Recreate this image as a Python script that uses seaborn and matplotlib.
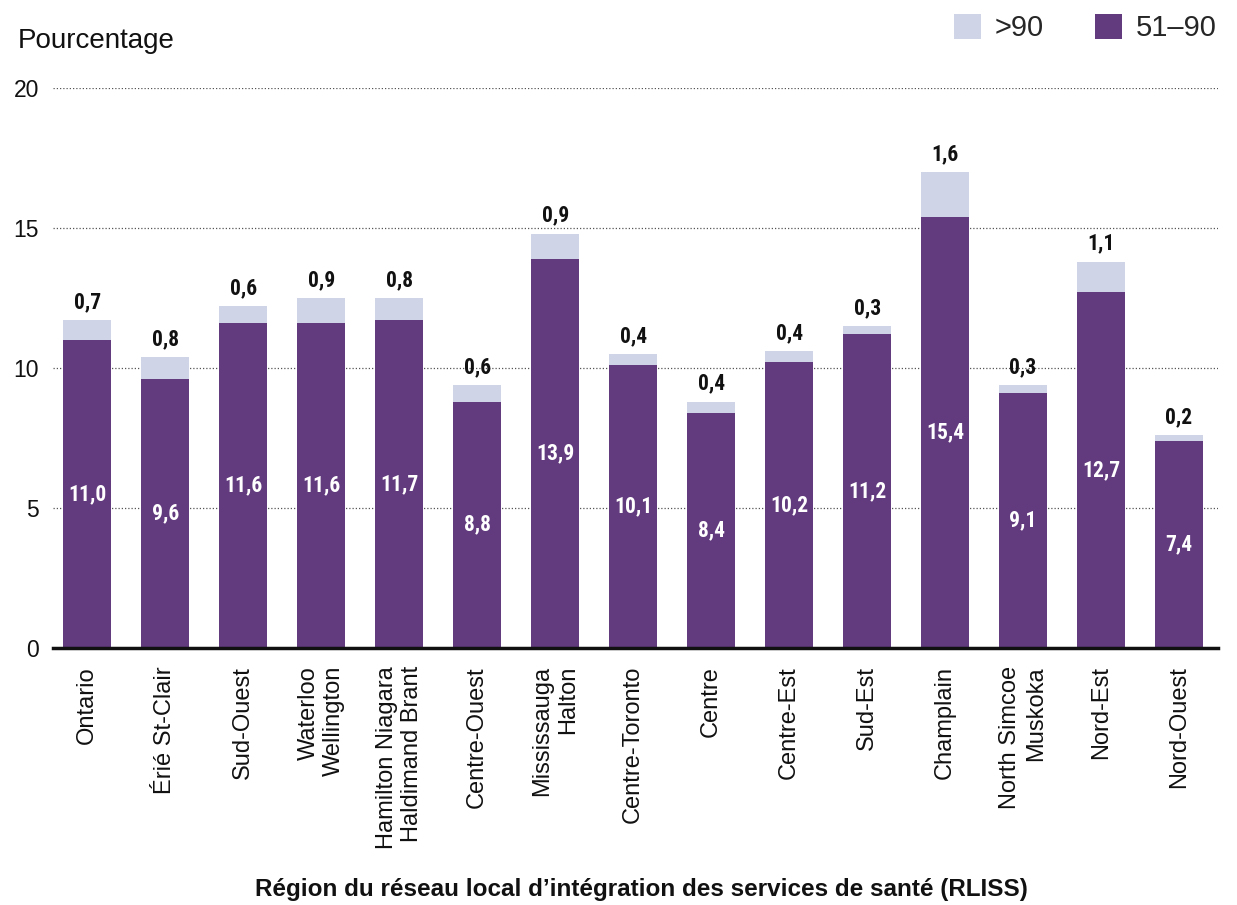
import matplotlib
matplotlib.use("Agg")
import matplotlib.pyplot as plt
from matplotlib import font_manager
from matplotlib.patches import Patch
import seaborn as sns
import pandas as pd

regions = [
    "Ontario", "Érié St-Clair", "Sud-Ouest", "Waterloo\nWellington",
    "Hamilton Niagara\nHaldimand Brant", "Centre-Ouest", "Mississauga\nHalton",
    "Centre-Toronto", "Centre", "Centre-Est", "Sud-Est", "Champlain",
    "North Simcoe\nMuskoka", "Nord-Est", "Nord-Ouest",
]
pct_51_90 = [11.0, 9.6, 11.6, 11.6, 11.7, 8.8, 13.9, 10.1, 8.4, 10.2, 11.2, 15.4, 9.1, 12.7, 7.4]
pct_over_90 = [0.7, 0.8, 0.6, 0.9, 0.8, 0.6, 0.9, 0.4, 0.4, 0.4, 0.3, 1.6, 0.3, 1.1, 0.2]
y_ticks = [0, 5, 10, 15, 20]

PURPLE = "#623A7E"
LIGHT = "#CFD5E6"
INK = "#111111"

sns.set_theme(style="white")
plt.rcParams["font.family"] = ["Liberation Sans", "DejaVu Sans"]

installed = {f.name for f in font_manager.fontManager.ttflist}
narrow = next((n for n in ["Liberation Sans Narrow", "Roboto Condensed",
                           "Open Sans Condensed", "DejaVu Sans Condensed"]
               if n in installed), "Liberation Sans")
value_font = dict(family=[narrow, "DejaVu Sans"], fontweight="bold", fontsize=15.5)

df = pd.DataFrame({"region": regions, "mid": pct_51_90, "high": pct_over_90})
df["total"] = df["mid"] + df["high"]

fig = plt.figure(figsize=(12.37, 9.05), dpi=100)
ax = fig.add_axes([53 / 1237, 1 - 648 / 905, (1218 - 53) / 1237, (648 - 88) / 905])

bar_w = 0.615
sns.barplot(data=df, x="region", y="total", color=LIGHT, saturation=1,
            width=bar_w, ax=ax, order=regions, linewidth=0, edgecolor="none")
sns.barplot(data=df, x="region", y="mid", color=PURPLE, saturation=1,
            width=bar_w, ax=ax, order=regions, linewidth=0, edgecolor="none")

ax.set_ylim(0, 20)
ax.set_xlim(-0.44, 14.5)
ax.set_yticks(y_ticks)
ax.set_yticklabels([str(t) for t in y_ticks], fontsize=16.5, color=INK)
ax.tick_params(axis="y", length=0, pad=10)
ax.tick_params(axis="x", length=0, pad=13)
ax.set_xticks(range(len(regions)))
ax.set_xticklabels(regions, rotation=90, fontsize=17, color=INK,
                   va="top", ha="center", multialignment="right")

for y in y_ticks[1:]:
    ax.axhline(y, color="#555555", lw=0.9, ls=(0, (1, 1.6)), zorder=0)

for s in ["left", "right", "top"]:
    ax.spines[s].set_visible(False)
ax.spines["bottom"].set_color(INK)
ax.spines["bottom"].set_linewidth(2.5)
ax.spines["bottom"].set_bounds(-0.44, 14.5)

ax.set_xlabel("Région du réseau local d’intégration des services de santé (RLISS)",
              fontsize=17.5, fontweight="bold", color=INK)
ax.xaxis.set_label_coords(0.505, -0.41)
ax.set_ylabel("")

for i, (m, h) in enumerate(zip(pct_51_90, pct_over_90)):
    ax.text(i, m / 2, f"{m:.1f}".replace(".", ","), ha="center", va="center",
            color="white", **value_font)
    ax.annotate(f"{h:.1f}".replace(".", ","), (i, m + h), xytext=(0, 5),
                textcoords="offset points", ha="center", va="bottom",
                color=INK, annotation_clip=False, **value_font)

fig.text(18 / 1237, 1 - 48 / 905, "Pourcentage", fontsize=20, color=INK,
         ha="left", va="baseline")

handles = [Patch(facecolor=LIGHT, edgecolor="none", label=">90"),
           Patch(facecolor=PURPLE, edgecolor="none", label="51–90")]
fig.legend(handles=handles, loc="upper right", bbox_to_anchor=(1228 / 1237, 1 - 2 / 905),
           ncol=2, frameon=False, fontsize=21, handlelength=0.95, handleheight=0.95,
           handletextpad=0.45, columnspacing=1.75, borderaxespad=0)

fig.savefig("out.png", dpi=100)
